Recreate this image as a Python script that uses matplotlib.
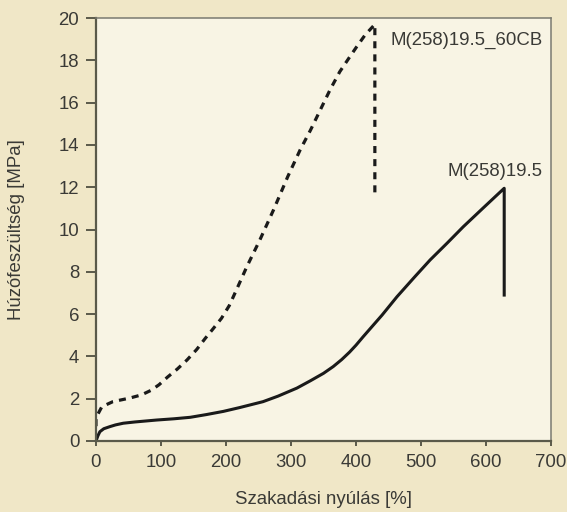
import matplotlib.pyplot as plt

# 60CB sample (dashed)
cb_x = [0, 0, 9, 26, 52, 70, 85, 97, 110, 125, 140, 155, 168, 180, 193, 205,
        216, 232, 252, 273, 295, 314, 330, 345, 360, 375, 389, 401, 414, 429,
        429]
cb_y = [0.7, 1.1, 1.62, 1.86, 2.03, 2.18, 2.4, 2.66, 3.02, 3.4, 3.83, 4.33,
        4.85, 5.3, 5.8, 6.4, 7.14, 8.24, 9.5, 10.92, 12.5, 13.76, 14.7, 15.65,
        16.6, 17.46, 18.1, 18.64, 19.2, 19.7, 11.5]

# base sample (solid)
base_x = [0, 3, 6, 12, 21.5, 30, 42, 60, 93, 120, 145, 170, 196, 221, 257,
          280, 309, 330, 350, 365, 378, 390, 400, 411, 440, 463, 490, 514, 540,
          565, 595, 628, 628]
base_y = [0, 0.25, 0.44, 0.58, 0.68, 0.76, 0.84, 0.9, 0.99, 1.05, 1.12, 1.25,
          1.4, 1.58, 1.86, 2.12, 2.5, 2.85, 3.2, 3.52, 3.85, 4.2, 4.53, 4.93,
          5.95, 6.82, 7.75, 8.56, 9.35, 10.13, 11.0, 11.95, 6.9]

labels = ["M(258)19.5_60CB", "M(258)19.5"]
xticks = [0, 100, 200, 300, 400, 500, 600, 700]
yticks = [0, 2, 4, 6, 8, 10, 12, 14, 16, 18, 20]

plt.rcParams['font.family'] = ['Liberation Sans', 'DejaVu Sans']
txt = '#3a3a36'
fs = 13.4

fig = plt.figure(figsize=(5.67, 5.12), dpi=100, facecolor='#f0e7c7')
ax = fig.add_axes([0.1693, 0.1387, 0.8025, 0.8261])
ax.set_facecolor('#f8f4e4')

ax.plot(base_x, base_y, color='#1a1a1a', lw=2.2, solid_joinstyle='round')
ax.plot(cb_x, cb_y, color='#1a1a1a', lw=2.3, linestyle=(0, (2.2, 1.9)))

ax.text(687, 18.96, labels[0], ha='right', va='center', fontsize=fs, color=txt)
ax.text(687, 12.72, labels[1], ha='right', va='center', fontsize=fs, color=txt)

ax.set_xlim(0, 700)
ax.set_ylim(0, 20)
ax.set_xticks(xticks)
ax.set_yticks(yticks)

for s in ['left', 'bottom']:
    ax.spines[s].set_color('#5a5a4a')
    ax.spines[s].set_linewidth(1.6)
for s in ['top', 'right']:
    ax.spines[s].set_color('#7a7a70')
    ax.spines[s].set_linewidth(1.1)

ax.tick_params(axis='y', direction='out', length=7, width=1.4, color='#5a5a4a',
               pad=5, labelsize=fs, labelcolor=txt)
ax.tick_params(axis='x', direction='out', length=3.6, width=1.4, color='#5a5a4a',
               pad=6, labelsize=fs, labelcolor=txt)

ax.set_xlabel("Szakadási nyúlás [%]", fontsize=fs, color=txt, labelpad=14)
ax.set_ylabel("Húzófeszültség [MPa]", fontsize=fs, color=txt, labelpad=24)

fig.savefig('out.png', dpi=100, facecolor=fig.get_facecolor())
